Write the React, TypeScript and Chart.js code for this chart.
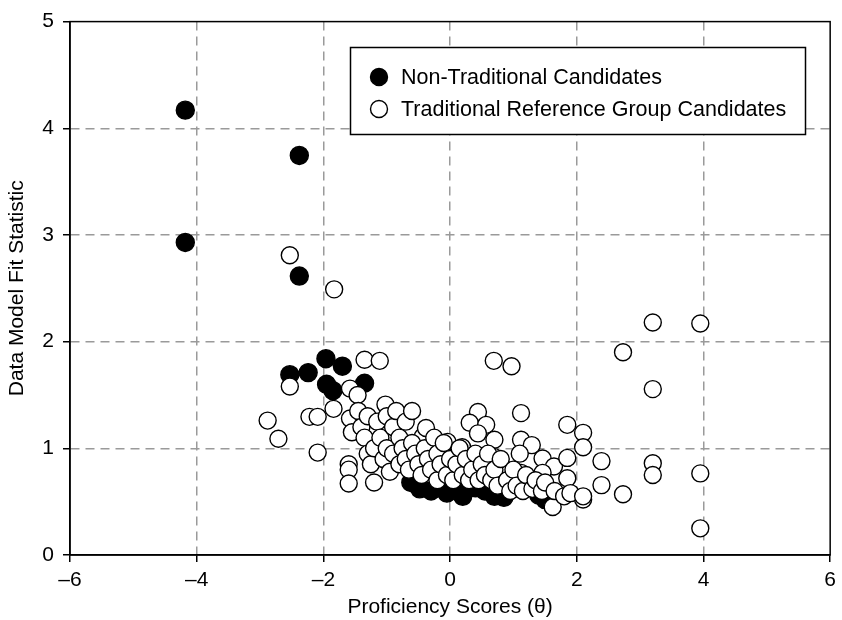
import React, { useEffect, useRef } from "react";
import { Chart, registerables } from "chart.js";

Chart.register(...registerables);

const seriesLabels = ["Non-Traditional Candidates", "Traditional Reference Group Candidates"];
const xTitle = "Proficiency Scores (\u03b8)";
const yTitle = "Data Model Fit Statistic";
const xRange = [-6, 6];
const yRange = [0, 5];

const nonTradX = [-4.18, -2.38, -4.18, -2.38, -1.96, -1.70, -2.53, -2.24, -1.95, -1.85, -1.35, -0.62, -0.48, -0.30, -0.05, 0.20, 0.18, 0.40, 0.55, 0.70, 0.85, 1.40, 1.50];
const nonTradY = [4.17, 3.745, 2.93, 2.615, 1.84, 1.77, 1.69, 1.71, 1.60, 1.54, 1.61, 0.68, 0.62, 0.60, 0.58, 0.55, 0.60, 0.63, 0.60, 0.55, 0.54, 0.56, 0.52];

const tradX = [-2.53, -1.83, -1.35, -1.11, -2.53, -1.58, -1.46, -2.88, -2.71, -2.22, -2.09, -1.84, -2.09, -1.02, -1.58,
  0.69, 0.97, 3.20, 3.95, 2.73, 3.20, 0.44, 1.12, 0.31, 0.57, 0.44, 1.85, 2.10, 2.10, 2.39, 3.20, 3.20,
  0.70, 1.12, 1.29, 1.46, 1.64, 1.85, 0.69, 0.82, 0.19, 0.31, -0.04, 0.09, -0.43, -0.38, 1.85, 2.39, 1.12, 1.46, 3.95, 2.73, 3.95, 2.10, 1.62,
  -1.60, -1.60, -1.60, -1.55, -1.45, -1.40, -1.35, -1.30, -1.30, -1.25, -1.20, -1.20, -1.15, -1.10, -1.05, -1.00, -1.00, -0.95, -0.90, -0.90,
  -0.85, -0.80, -0.80, -0.75, -0.70, -0.70, -0.65, -0.60, -0.60, -0.55, -0.50, -0.45, -0.40, -0.35, -0.30, -0.25, -0.20, -0.20, -0.15, -0.10,
  -0.05, 0.00, 0.05, 0.10, 0.15, 0.20, 0.25, 0.30, 0.35, 0.40, 0.45, 0.50, 0.55, 0.60, 0.65, 0.70, 0.75, 0.80, 0.90, 0.95,
  1.00, 1.05, 1.10, 1.15, 1.20, 1.30, 1.35, 1.45, 1.50, 1.65, 1.80, 1.90, 2.10];
const tradY = [2.81, 2.49, 1.83, 1.82, 1.58, 1.56, 1.50, 1.26, 1.09, 1.295, 1.295, 1.37, 0.96, 1.41, 1.28,
  1.82, 1.77, 2.18, 2.17, 1.90, 1.555, 1.34, 1.33, 1.24, 1.22, 1.14, 1.22, 1.145, 1.01, 0.88, 0.86, 0.75,
  1.08, 1.08, 1.03, 0.905, 0.83, 0.91, 0.92, 0.83, 1.01, 0.89, 1.06, 0.93, 1.11, 1.19, 0.72, 0.655, 0.77, 0.77, 0.765, 0.57, 0.25, 0.52, 0.45,
  0.85, 0.80, 0.67, 1.15, 1.35, 1.20, 1.10, 1.30, 0.95, 0.85, 1.00, 0.68, 1.25, 1.10, 0.90, 1.30, 1.00, 0.78, 1.20, 0.95,
  1.35, 1.10, 0.85, 1.00, 1.25, 0.90, 0.80, 1.35, 1.05, 0.95, 0.85, 0.75, 1.00, 0.90, 0.80, 1.10, 0.95, 0.70, 0.85, 1.05,
  0.75, 0.90, 0.70, 0.85, 1.00, 0.75, 0.90, 0.70, 0.80, 0.95, 0.70, 0.85, 0.75, 0.95, 0.70, 0.80, 0.65, 0.90, 0.70, 0.60,
  0.80, 0.65, 0.95, 0.60, 0.75, 0.62, 0.70, 0.60, 0.68, 0.60, 0.55, 0.58, 0.55];

const FONT = '"Liberation Sans", Arial, Helvetica, sans-serif';

const toPoints = (xs: number[], ys: number[]) => xs.map((x, i) => ({ x, y: ys[i] }));

const tickLabel = (v: number | string) => {
  const n = Number(v);
  return n < 0 ? "\u2013" + Math.abs(n) : String(n);
};

const framePlugin = {
  id: "frame",
  afterDatasetsDraw(chart: any) {
    const { ctx, chartArea: a } = chart;
    ctx.save();
    ctx.strokeStyle = "#000";
    ctx.lineWidth = 1.5;
    ctx.strokeRect(a.left, a.top, a.right - a.left, a.bottom - a.top);
    ctx.restore();
  },
};

const boxLegendPlugin = {
  id: "boxLegend",
  afterDraw(chart: any) {
    const { ctx } = chart;
    const x0 = 350.5, y0 = 47.5, w = 455, h = 87;
    ctx.save();
    ctx.fillStyle = "#fff";
    ctx.fillRect(x0, y0, w, h);
    ctx.strokeStyle = "#000";
    ctx.lineWidth = 1.5;
    ctx.strokeRect(x0, y0, w, h);
    const rows = [77, 109];
    chart.data.datasets
      .slice()
      .sort((a: any, b: any) => a.legendIndex - b.legendIndex)
      .forEach((ds: any, i: number) => {
        const cy = rows[i];
        ctx.beginPath();
        ctx.arc(379, cy, 8.5, 0, Math.PI * 2);
        ctx.fillStyle = ds.backgroundColor;
        ctx.fill();
        ctx.lineWidth = 1.4;
        ctx.strokeStyle = "#000";
        ctx.stroke();
        ctx.fillStyle = "#000";
        ctx.font = `21.5px ${FONT}`;
        ctx.textAlign = "left";
        ctx.textBaseline = "middle";
        ctx.fillText(ds.label, 401, cy + 1);
      });
    ctx.restore();
  },
};

export default function App() {
  const canvasRef = useRef<HTMLCanvasElement | null>(null);

  useEffect(() => {
    if (!canvasRef.current) return;
    const gridColor = (ctx: any, edges: number[]) =>
      edges.includes(ctx.tick?.value) ? "rgba(0,0,0,0)" : "#9a9a9a";

    const chart = new Chart(canvasRef.current, {
      type: "scatter",
      data: {
        datasets: [
          {
            label: seriesLabels[0],
            legendIndex: 0,
            data: toPoints(nonTradX, nonTradY),
            backgroundColor: "#000",
            borderColor: "#000",
            borderWidth: 1.4,
            pointRadius: 9,
            order: 1,
          } as any,
          {
            label: seriesLabels[1],
            legendIndex: 1,
            data: toPoints(tradX, tradY),
            backgroundColor: "#fff",
            borderColor: "#000",
            borderWidth: 1.4,
            pointRadius: 8.5,
            order: 0,
          } as any,
        ],
      },
      options: {
        animation: false,
        responsive: false,
        layout: { padding: { top: 21, right: 6, left: 0, bottom: 0 } },
        plugins: { legend: { display: false }, tooltip: { enabled: false } },
        scales: {
          x: {
            type: "linear",
            min: xRange[0],
            max: xRange[1],
            afterFit: (s: any) => { s.height = 65; },
            ticks: {
              stepSize: 2,
              padding: 6,
              color: "#000",
              font: { family: FONT, size: 21 },
              callback: tickLabel,
            },
            grid: {
              color: (c: any) => gridColor(c, xRange),
              lineWidth: 1.5,
              tickColor: "#000",
              tickLength: 7,
              tickWidth: 1.5,
            },
            border: { display: true, color: "#000", width: 1.5, dash: [9, 6] },
            title: {
              display: true,
              text: xTitle,
              color: "#000",
              font: { family: FONT, size: 21 },
              padding: { top: 0, bottom: 0 },
            },
          },
          y: {
            type: "linear",
            min: yRange[0],
            max: yRange[1],
            afterFit: (s: any) => { s.width = 70; },
            ticks: {
              stepSize: 1,
              padding: 9,
              color: "#000",
              font: { family: FONT, size: 21 },
              callback: tickLabel,
            },
            grid: {
              color: (c: any) => gridColor(c, yRange),
              lineWidth: 1.5,
              tickColor: "#000",
              tickLength: 7,
              tickWidth: 1.5,
            },
            border: { display: true, color: "#000", width: 1.5, dash: [9, 6] },
            title: {
              display: true,
              text: yTitle,
              color: "#000",
              font: { family: FONT, size: 21 },
              padding: { top: 5, bottom: 0 },
            },
          },
        },
      } as any,
      plugins: [framePlugin, boxLegendPlugin],
    });
    return () => chart.destroy();
  }, []);

  return (
    <div style={{ position: "fixed", left: 0, top: 0, width: 842, height: 620, background: "#fff" }}>
      <canvas ref={canvasRef} width={842} height={620} style={{ display: "block" }} />
    </div>
  );
}
